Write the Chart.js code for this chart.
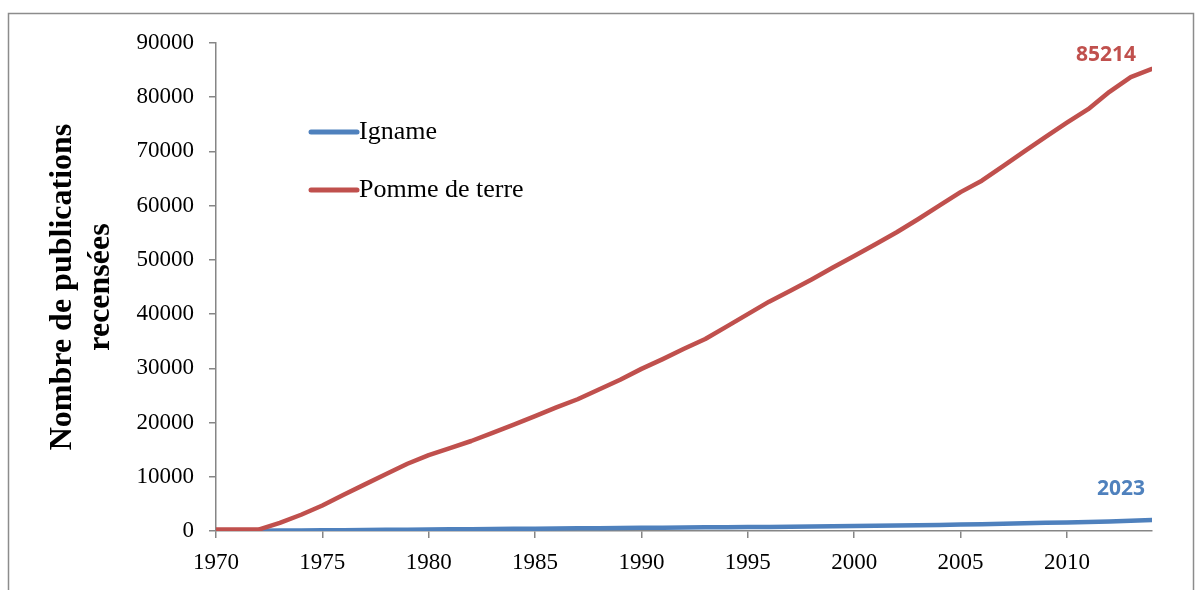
<!DOCTYPE html>
<html lang="fr">
<head>
<meta charset="utf-8">
<title>Publications igname / pomme de terre</title>
<script src="https://cdn.jsdelivr.net/npm/chart.js@4.4.1/dist/chart.umd.min.js"></script>
<style>
  html, body { margin: 0; padding: 0; background: #fff; }
  #wrap { width: 1198px; height: 590px; position: relative; }
</style>
</head>
<body>
<div id="wrap"><canvas id="chart"></canvas></div>
<script>
// années 1970 - 2014
const years = [
  1970, 1971, 1972, 1973, 1974, 1975, 1976, 1977, 1978, 1979,
  1980, 1981, 1982, 1983, 1984, 1985, 1986, 1987, 1988, 1989,
  1990, 1991, 1992, 1993, 1994, 1995, 1996, 1997, 1998, 1999,
  2000, 2001, 2002, 2003, 2004, 2005, 2006, 2007, 2008, 2009,
  2010, 2011, 2012, 2013, 2014
];

// nombre cumulé de publications - igname
const igname = [
  20, 40, 60, 80, 100, 130, 160, 190, 220, 250,
  280, 310, 340, 370, 400, 430, 460, 490, 520, 550,
  580, 610, 640, 670, 700, 730, 760, 790, 830, 870,
  910, 950, 1000, 1060, 1120, 1180, 1260, 1340, 1420, 1500,
  1580, 1660, 1760, 1880, 2023
];

// nombre cumulé de publications - pomme de terre
const pommeDeTerre = [
  260, 260, 260, 1500, 3000, 4700, 6700, 8600, 10500, 12400,
  14000, 15300, 16600, 18100, 19600, 21200, 22800, 24300, 26100, 27900,
  29900, 31700, 33600, 35400, 37700, 40000, 42300, 44300, 46400, 48600,
  50700, 52900, 55100, 57500, 60000, 62500, 64600, 67300, 70000, 72700,
  75300, 77800, 81000, 83700, 85214
];

const seriesLabels = ['Igname', 'Pomme de terre'];
const yTicksMax = 90000;
const yTicksStep = 10000;
const xTicksStep = 5;

const BLUE = '#4F81BD';
const RED = '#C0504D';
const AXIS = '#868686';
const SERIF = '"Liberation Serif", "Times New Roman", serif';

function toPoints(values) {
  return values.map((v, i) => ({ x: years[i], y: v }));
}

// cadre gris autour du graphique
const framePlugin = {
  id: 'frame',
  beforeDraw(chart) {
    const ctx = chart.ctx;
    ctx.save();
    ctx.strokeStyle = '#8c8c8c';
    ctx.lineWidth = 1.5;
    ctx.strokeRect(8.5, 13.5, 1185, 700);
    ctx.restore();
  }
};

// légende dans la zone de tracé
const insideLegend = {
  id: 'insideLegend',
  afterDatasetsDraw(chart, args, opts) {
    const ctx = chart.ctx;
    const area = chart.chartArea;
    ctx.save();
    chart.data.datasets.forEach((ds, i) => {
      const y = area.top + opts.top + i * opts.rowGap;
      const x0 = area.left + opts.left;
      ctx.strokeStyle = ds.borderColor;
      ctx.lineWidth = 5;
      ctx.lineCap = 'round';
      ctx.beginPath();
      ctx.moveTo(x0, y);
      ctx.lineTo(x0 + opts.lineLength, y);
      ctx.stroke();
      ctx.fillStyle = '#000';
      ctx.font = opts.font;
      ctx.textBaseline = 'middle';
      ctx.textAlign = 'left';
      ctx.fillText(ds.label, x0 + opts.lineLength + 2, y);
    });
    ctx.restore();
  }
};

// valeur finale de chaque série
const lastValueLabels = {
  id: 'lastValueLabels',
  afterDatasetsDraw(chart, args, opts) {
    const ctx = chart.ctx;
    ctx.save();
    ctx.font = opts.font;
    ctx.textAlign = 'center';
    ctx.textBaseline = 'middle';
    chart.data.datasets.forEach((ds, i) => {
      const meta = chart.getDatasetMeta(i);
      const pt = meta.data[meta.data.length - 1];
      const off = opts.offsets[i];
      ctx.fillStyle = ds.borderColor;
      ctx.fillText(String(ds.data[ds.data.length - 1].y), pt.x + off.dx, pt.y + off.dy);
    });
    ctx.restore();
  }
};

new Chart(document.getElementById('chart'), {
  type: 'line',
  data: {
    datasets: [
      {
        label: seriesLabels[0],
        data: toPoints(igname),
        borderColor: BLUE,
        backgroundColor: BLUE,
        borderWidth: 4.5,
        pointRadius: 0,
        tension: 0,
        borderCapStyle: 'round',
        borderJoinStyle: 'round',
        order: 1,
      },
      {
        label: seriesLabels[1],
        data: toPoints(pommeDeTerre),
        borderColor: RED,
        backgroundColor: RED,
        borderWidth: 4.5,
        pointRadius: 0,
        tension: 0,
        borderCapStyle: 'round',
        borderJoinStyle: 'round',
        order: 0,
      },
    ],
  },
  options: {
    responsive: true,
    maintainAspectRatio: false,
    animation: false,
    layout: {
      padding: { top: 43, right: 46, bottom: 0, left: 0 },
    },
    plugins: {
      legend: { display: false },
      tooltip: { enabled: false },
      insideLegend: {
        left: 95,
        top: 89,
        rowGap: 58,
        lineLength: 46,
        font: '26px ' + SERIF,
      },
      lastValueLabels: {
        font: 'bold 21px "Open Sans", "Liberation Sans", sans-serif',
        offsets: [
          { dx: -31, dy: -31 },
          { dx: -46, dy: -14 },
        ],
      },
    },
    scales: {
      x: {
        type: 'linear',
        min: years[0],
        max: years[years.length - 1],
        afterFit(scale) { scale.height = 59; },
        ticks: {
          stepSize: xTicksStep,
          padding: 11,
          color: '#000',
          font: { family: SERIF, size: 23 },
          maxRotation: 0,
          callback: (v) => (v % xTicksStep === 0 ? String(v) : null),
        },
        grid: {
          drawOnChartArea: false,
          drawTicks: true,
          tickLength: 7,
          color: AXIS,
          lineWidth: 1.5,
        },
        border: { color: AXIS, width: 1.5 },
      },
      y: {
        min: 0,
        max: yTicksMax,
        afterFit(scale) { scale.width = 216; },
        ticks: {
          stepSize: yTicksStep,
          padding: 15,
          color: '#000',
          font: { family: SERIF, size: 23 },
          callback: (v) => String(v),
        },
        grid: {
          drawOnChartArea: false,
          drawTicks: true,
          tickLength: 7,
          color: AXIS,
          lineWidth: 1.5,
        },
        border: { color: AXIS, width: 1.5 },
        title: {
          display: true,
          text: ['Nombre de publications', 'recensées'],
          color: '#000',
          font: { family: SERIF, size: 32, weight: 'bold', lineHeight: 1.19 },
          padding: { top: 44, bottom: 0 },
        },
      },
    },
  },
  plugins: [framePlugin, insideLegend, lastValueLabels],
});
</script>
</body>
</html>
